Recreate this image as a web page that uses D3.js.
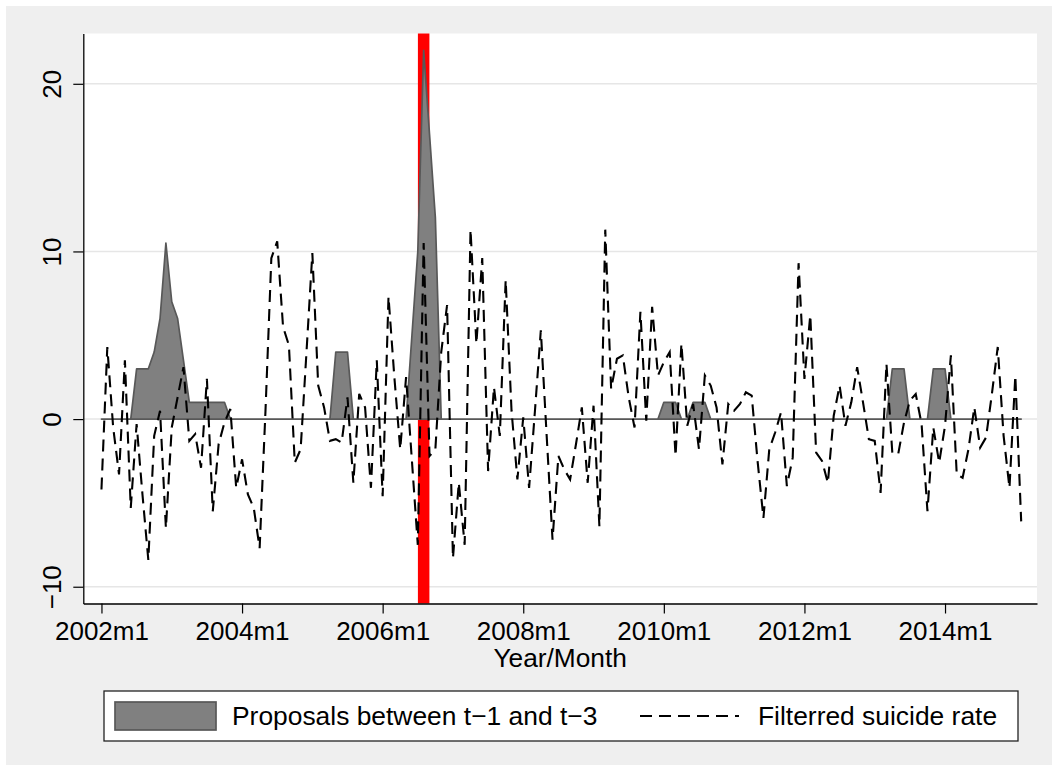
<!DOCTYPE html>
<html>
<head>
<meta charset="utf-8">
<script src="https://cdn.jsdelivr.net/npm/d3@7"></script>
<style>
  html, body { margin: 0; padding: 0; background: #ffffff; }
  svg { display: block; }
  text { font-family: "Liberation Sans", Arial, Helvetica, sans-serif; fill: #000; }
</style>
</head>
<body>
<svg id="chart" width="1058" height="771"></svg>
<script>
// ---- data (monthly, starting 2002m1; index 0 = 2002m1) ----
const startYear = 2002;
const suicideRate = [
  -4.2, 4.3, -0.5, -3.3, 3.5, -5.3, -0.3, -4.5, -8.4, -1.0, 0.5, -6.5,
  -0.5, 1.3, 3.1, -1.3, -0.9, -2.9, 2.4, -5.5, -1.5, -0.2, 0.6, -4.1,
  -2.4, -4.5, -5.3, -7.7, 0.5, 9.6, 10.6, 5.5, 4.4, -2.6, -1.8, 4.0,
  9.9, 2.0, 0.7, -1.3, -1.2, -1.4, 1.3, -3.8, 1.5, 0.7, -4.1, 3.5,
  -4.6, 7.3, 2.5, -1.8, 2.5, -2.5, -7.5, 10.5, -2.2, -1.8, 4.0, 6.8,
  -8.3, -3.8, -7.5, 11.3, 4.5, 9.6, -3.1, 1.9, -1.0, 8.3, 0.5, -3.6,
  0.1, -4.1, 0.5, 5.3, -1.0, -7.2, -2.2, -3.0, -3.6, -1.5, 0.7, -3.8,
  0.8, -6.4, 11.3, 1.8, 3.6, 3.8, 1.3, -0.5, 6.4, -0.1, 6.7, 2.6,
  3.4, 4.0, -2.2, 4.5, -0.4, 0.9, -1.8, 2.6, 2.0, 0.7, -2.7, 0.9,
  0.5, 0.9, 1.6, 1.4, -2.5, -5.9, -1.8, -0.8, 0.4, -4.0, -2.3, 9.3,
  2.4, 6.2, -2.0, -2.5, -3.8, 0.2, 2.0, -0.4, 1.0, 3.1, 1.0, -1.2,
  -1.3, -4.4, 3.3, -2.0, -2.1, -0.2, 1.1, 1.5, -0.3, -5.5, -0.5, -2.6,
  -0.4, 3.8, -3.3, -3.5, -1.8, 0.7, -1.7, -1.1, 1.5, 4.3, -1.0, -4.1,
  2.6, -6.1
];
const proposals = [
  0, 0, 0, 0, 0, 0, 3, 3, 3, 4, 6, 10.5,
  7, 6, 3.5, 1, 1, 1, 1, 1, 1, 1, 0, 0,
  0, 0, 0, 0, 0, 0, 0, 0, 0, 0, 0, 0,
  0, 0, 0, 0, 4, 4, 4, 0, 0, 0, 0, 0,
  0, 0, 0, 0, 0, 5, 10, 22, 17, 12, 0, 0,
  0, 0, 0, 0, 0, 0, 0, 0, 0, 0, 0, 0,
  0, 0, 0, 0, 0, 0, 0, 0, 0, 0, 0, 0,
  0, 0, 0, 0, 0, 0, 0, 0, 0, 0, 0, 0,
  1, 1, 1, 0, 0, 1, 1, 1, 0, 0, 0, 0,
  0, 0, 0, 0, 0, 0, 0, 0, 0, 0, 0, 0,
  0, 0, 0, 0, 0, 0, 0, 0, 0, 0, 0, 0,
  0, 0, 0, 3, 3, 3, 0, 0, 0, 0, 3, 3,
  3, 0, 0, 0, 0, 0, 0, 0, 0, 0, 0, 0,
  0, 0
];
const xTickMonths = [0, 24, 48, 72, 96, 120, 144];
const xTickLabels = ["2002m1", "2004m1", "2006m1", "2008m1", "2010m1", "2012m1", "2014m1"];
const yTicks = [-10, 0, 10, 20];
const yTickLabels = ["\u221210", "0", "10", "20"];
const eventMonth = 55; // 2006m8
const legendLabels = ["Proposals between t\u22121 and t\u22123", "Filterred suicide rate"];
const xTitle = "Year/Month";

// ---- layout ----
const svg = d3.select("#chart");
const W = 1058, H = 771;
const plot = { left: 83.3, right: 1037, top: 33.5, bottom: 603.5 };
const FONT = "'Liberation Sans', Arial, sans-serif";

svg.append("rect").attr("x", 6).attr("y", 6).attr("width", W - 12).attr("height", H - 12).attr("fill", "#efefef");
svg.append("rect").attr("x", plot.left).attr("y", plot.top)
  .attr("width", plot.right - plot.left).attr("height", plot.bottom - plot.top).attr("fill", "#ffffff");

const x = d3.scaleLinear().domain([-3.1, 159.7]).range([plot.left, plot.right]);
const y = d3.scaleLinear().domain([-11, 23]).range([plot.bottom, plot.top]);

// gridlines
svg.append("g").selectAll("line").data(yTicks).join("line")
  .attr("x1", plot.left).attr("x2", plot.right)
  .attr("y1", d => y(d)).attr("y2", d => y(d))
  .attr("stroke", "#e6e6e6").attr("stroke-width", 1.5);

// event line (red)
svg.append("line")
  .attr("x1", x(eventMonth)).attr("x2", x(eventMonth))
  .attr("y1", plot.top).attr("y2", plot.bottom)
  .attr("stroke", "#ff0000").attr("stroke-width", 11.5);

// area
const areaGen = d3.area().x((d, i) => x(i)).y0(y(0)).y1(d => y(d));
svg.append("path").datum(proposals)
  .attr("d", areaGen)
  .attr("fill", "#808080").attr("stroke", "#585858").attr("stroke-width", 1.7)
  .attr("stroke-linejoin", "round");

// dashed line
const lineGen = d3.line().x((d, i) => x(i)).y(d => y(d));
svg.append("path").datum(suicideRate)
  .attr("d", lineGen)
  .attr("fill", "none").attr("stroke", "#000").attr("stroke-width", 2.1)
  .attr("stroke-dasharray", "12,7");

// axes
const xAxis = d3.axisBottom(x).tickValues(xTickMonths)
  .tickFormat((d, i) => xTickLabels[i]).tickSize(10).tickSizeOuter(0);
const gx = svg.append("g").attr("transform", `translate(0,${plot.bottom})`).call(xAxis);
gx.select(".domain").attr("stroke", "#000").attr("stroke-width", 1.3);
gx.selectAll(".tick line").attr("stroke", "#000").attr("stroke-width", 1.2);
gx.selectAll(".tick text").attr("y", 36).attr("dy", null)
  .style("font-size", "26px").style("font-family", FONT).attr("fill", "#000");

const yAxis = d3.axisLeft(y).tickValues(yTicks)
  .tickFormat((d, i) => yTickLabels[i]).tickSize(10).tickSizeOuter(0);
const gy = svg.append("g").attr("transform", `translate(${plot.left},0)`).call(yAxis);
gy.select(".domain").attr("stroke", "#000").attr("stroke-width", 1.3);
gy.selectAll(".tick line").attr("stroke", "#000").attr("stroke-width", 1.2);
gy.selectAll(".tick text")
  .attr("x", null).attr("dy", null)
  .attr("text-anchor", "middle")
  .attr("transform", "translate(-22,0) rotate(-90)")
  .style("font-size", "26px").style("font-family", FONT).attr("fill", "#000");

// x title
svg.append("text").attr("x", (plot.left + plot.right) / 2).attr("y", 667)
  .attr("text-anchor", "middle").style("font-size", "26.3px").text(xTitle);

// legend
const lg = svg.append("g");
lg.append("rect").attr("x", 104).attr("y", 691).attr("width", 914).attr("height", 50)
  .attr("fill", "#fff").attr("stroke", "#222").attr("stroke-width", 1.3);
lg.append("rect").attr("x", 115).attr("y", 702).attr("width", 101).attr("height", 28)
  .attr("fill", "#808080").attr("stroke", "#585858").attr("stroke-width", 1.7);
lg.append("text").attr("x", 232).attr("y", 725).style("font-size", "26.4px").text(legendLabels[0]);
lg.append("line").attr("x1", 640).attr("x2", 739).attr("y1", 716).attr("y2", 716)
  .attr("stroke", "#000").attr("stroke-width", 2.1).attr("stroke-dasharray", "12,7");
lg.append("text").attr("x", 758).attr("y", 725).style("font-size", "26.4px").text(legendLabels[1]);
</script>
</body>
</html>
